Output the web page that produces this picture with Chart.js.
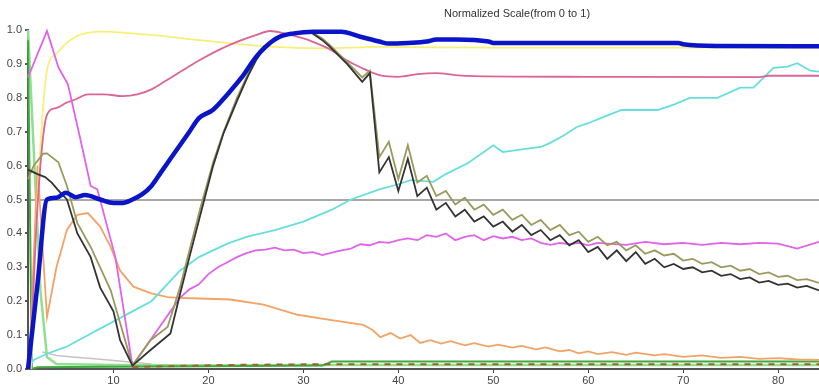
<!DOCTYPE html>
<html>
<head>
<meta charset="utf-8">
<script src="https://cdn.jsdelivr.net/npm/chart.js@4"></script>
<style>
  body { margin: 0; background: #fff; }
  #wrap { width: 819px; height: 392px; }
</style>
</head>
<body>
<div id="wrap"><canvas id="norm_canvas" width="819" height="392"></canvas></div>
<script>
// values, x = step, y = normalized value
const titleText = 'Normalized Scale(from 0 to 1)';
const yTicks = [0, 0.1, 0.2, 0.3, 0.4, 0.5, 0.6, 0.7, 0.8, 0.9, 1.0];
const xTicks = [10, 20, 30, 40, 50, 60, 70, 80];
const refLevel = 0.5;

const blueX = [1, 2, 3, 4, 5, 6, 7, 8.6, 10, 11, 12, 13, 14, 15, 16, 17, 18, 19, 20.5, 22, 23.5, 25, 26, 27.5, 29, 31, 34, 36, 38, 39, 41, 43, 44, 46, 49.5, 50, 60, 69.5, 70, 74, 84.3];
const blueY = [0, 0.25, 0.5, 0.505, 0.52, 0.507, 0.513, 0.5, 0.49, 0.49, 0.5, 0.515, 0.54, 0.58, 0.62, 0.66, 0.7, 0.74, 0.765, 0.81, 0.86, 0.92, 0.95, 0.98, 0.99, 0.995, 0.995, 0.98, 0.966, 0.96, 0.962, 0.966, 0.972, 0.972, 0.966, 0.962, 0.962, 0.962, 0.958, 0.953, 0.952];

const yellowX = [1.3, 2, 3, 4, 5, 6, 7, 8.5, 12, 16, 19, 22, 27, 32, 38, 50, 84.3];
const yellowY = [0, 0.5, 0.88, 0.93, 0.96, 0.98, 0.99, 0.995, 0.99, 0.98, 0.97, 0.962, 0.95, 0.946, 0.95, 0.948, 0.948];

const roseX = [1.2, 2, 3, 4, 5, 6, 7.3, 9, 11, 12.5, 14, 15.5, 17, 19, 21, 23, 25, 26.5, 28, 30, 31, 33, 34.6, 36, 38, 40, 42, 44, 46, 48, 60, 78, 79, 84.3];
const roseY = [0, 0.48, 0.75, 0.77, 0.785, 0.795, 0.81, 0.81, 0.805, 0.81, 0.825, 0.85, 0.876, 0.91, 0.94, 0.965, 0.985, 0.997, 0.99, 0.975, 0.965, 0.94, 0.91, 0.89, 0.867, 0.862, 0.87, 0.873, 0.867, 0.864, 0.862, 0.861, 0.865, 0.865];

const violetX = [1, 3, 4.2, 5.2, 6.5, 7.6, 8.3, 10.2, 12, 13, 14, 15, 16, 17, 18, 19, 20, 21, 22, 23, 24, 25, 26, 27, 28, 29, 30, 31, 32, 33, 34, 35, 36, 37, 38, 39, 40, 41, 42, 43, 44, 45, 46, 47, 48, 49, 50, 51, 52, 53, 54, 55, 56, 57, 58, 59, 60, 61, 62, 64, 66, 68, 70, 72, 74, 76, 78, 80, 82, 84.3];
const violetY = [0.86, 0.997, 0.89, 0.84, 0.68, 0.54, 0.53, 0.33, 0.01, 0.05, 0.09, 0.13, 0.17, 0.21, 0.235, 0.25, 0.28, 0.3, 0.315, 0.33, 0.342, 0.35, 0.352, 0.358, 0.35, 0.352, 0.342, 0.345, 0.336, 0.343, 0.35, 0.355, 0.368, 0.365, 0.375, 0.372, 0.38, 0.385, 0.38, 0.395, 0.39, 0.4, 0.38, 0.39, 0.395, 0.38, 0.392, 0.385, 0.39, 0.38, 0.385, 0.372, 0.366, 0.372, 0.368, 0.372, 0.365, 0.372, 0.37, 0.366, 0.375, 0.368, 0.372, 0.366, 0.372, 0.368, 0.372, 0.37, 0.355, 0.375];

const cyanX = [1, 1.6, 3, 5, 7, 9, 10, 12, 14, 17, 19, 22, 24, 27, 30, 33, 35, 38, 40, 41.3, 43.7, 45, 47.3, 49, 50, 51, 53, 55, 56, 57.5, 58.8, 60, 61.3, 63.5, 67.3, 69, 70.7, 73.6, 76, 77.4, 78.5, 79.5, 81, 82, 83.4, 84.3];
const cyanY = [0, 0.027, 0.045, 0.065, 0.095, 0.125, 0.14, 0.17, 0.2, 0.29, 0.33, 0.37, 0.39, 0.41, 0.435, 0.47, 0.5, 0.53, 0.545, 0.557, 0.552, 0.575, 0.607, 0.64, 0.66, 0.64, 0.648, 0.655, 0.667, 0.69, 0.714, 0.725, 0.74, 0.764, 0.764, 0.78, 0.8, 0.8, 0.83, 0.83, 0.86, 0.888, 0.892, 0.902, 0.88, 0.877];

const blackX = [1, 2, 2.8, 3.5, 4.1, 5.1, 6.2, 7.6, 8.6, 10, 10.7, 12, 13.9, 16, 17, 18, 19.2, 20.5, 21.6, 23, 24.1, 25, 25.8, 27, 28, 30.7, 32, 32.8, 34.6, 36.2, 37, 38, 39, 40, 41, 42, 43, 44, 45, 46, 47, 48, 49, 50, 51, 52, 53, 54, 55, 56, 57, 58, 59, 60, 61, 62, 63, 64, 65, 66, 67, 68, 69, 70, 71, 72, 73, 74, 75, 76, 77, 78, 79, 80, 81, 82, 83, 84.3];
const blackY = [0.588, 0.575, 0.566, 0.55, 0.53, 0.5, 0.4, 0.33, 0.24, 0.17, 0.085, 0.01, 0.056, 0.105, 0.22, 0.33, 0.46, 0.6, 0.696, 0.79, 0.86, 0.91, 0.945, 0.975, 0.985, 0.995, 0.97, 0.95, 0.9, 0.847, 0.873, 0.58, 0.625, 0.525, 0.62, 0.51, 0.535, 0.47, 0.49, 0.45, 0.47, 0.435, 0.45, 0.42, 0.435, 0.405, 0.425, 0.395, 0.41, 0.38, 0.395, 0.365, 0.38, 0.345, 0.36, 0.325, 0.35, 0.318, 0.345, 0.31, 0.325, 0.3, 0.31, 0.295, 0.3, 0.285, 0.29, 0.275, 0.28, 0.265, 0.27, 0.255, 0.26, 0.248, 0.252, 0.24, 0.245, 0.232];

const oliveX = [1, 1.6, 2.6, 3, 4.2, 5.1, 6.2, 7.6, 9.7, 10.7, 12, 13.9, 15.7, 17, 18, 19.2, 20.5, 21.6, 23, 24.1, 25, 25.8, 27, 28, 30.7, 32, 32.8, 34.6, 36.2, 37, 38, 39, 40, 41, 42, 43, 44, 45, 46, 47, 48, 49, 50, 51, 52, 53, 54, 55, 56, 57, 58, 59, 60, 61, 62, 63, 64, 65, 66, 67, 68, 69, 70, 71, 72, 73, 74, 75, 76, 77, 78, 79, 80, 81, 82, 83, 84.3];
const oliveY = [0.56, 0.6, 0.635, 0.636, 0.61, 0.54, 0.43, 0.36, 0.233, 0.136, 0.01, 0.085, 0.124, 0.24, 0.35, 0.48, 0.61, 0.7, 0.8, 0.865, 0.915, 0.95, 0.978, 0.988, 0.997, 0.975, 0.955, 0.905, 0.86, 0.88, 0.625, 0.67, 0.56, 0.66, 0.55, 0.57, 0.51, 0.525, 0.485, 0.505, 0.47, 0.485, 0.455, 0.47, 0.44, 0.455, 0.425, 0.44, 0.41, 0.425, 0.395, 0.405, 0.375, 0.39, 0.365, 0.375, 0.35, 0.365, 0.34, 0.35, 0.335, 0.34, 0.32, 0.325, 0.31, 0.315, 0.3, 0.305, 0.29, 0.295, 0.28, 0.285, 0.272, 0.275, 0.262, 0.265, 0.254];

const orangeX = [1.2, 2, 3, 4, 5.1, 6.2, 7.3, 8.6, 9.7, 10.7, 12.1, 13.9, 15.7, 17, 19, 22.3, 25.8, 29.4, 32.8, 36.3, 37.3, 38.1, 39.2, 40.2, 41.3, 42.3, 43.4, 44.5, 45.5, 47, 48, 49.5, 50.5, 52, 53, 54.5, 55.5, 57, 58, 59, 60, 61, 62.5, 64, 65, 67, 68, 70, 72, 74, 76, 78, 80, 82, 84.3];
const orangeY = [0.05, 0.6, 0.153, 0.3, 0.41, 0.455, 0.46, 0.42, 0.36, 0.29, 0.243, 0.224, 0.212, 0.21, 0.208, 0.205, 0.19, 0.16, 0.145, 0.13, 0.115, 0.094, 0.106, 0.09, 0.1, 0.077, 0.085, 0.075, 0.082, 0.07, 0.076, 0.066, 0.072, 0.063, 0.068, 0.058, 0.064, 0.052, 0.056, 0.046, 0.052, 0.044, 0.05, 0.042, 0.048, 0.04, 0.044, 0.036, 0.04, 0.033, 0.036, 0.03, 0.032, 0.028, 0.027];

const lightGreenX = [1, 1.8, 2.3, 3, 4, 10, 20, 30, 84.3];
const lightGreenY = [1, 0.53, 0.234, 0.035, 0.015, 0.012, 0.01, 0.012, 0.012];

const greenX = [1, 1.4, 2, 5, 20, 32, 33, 84.3];
const greenY = [0.97, 0, 0.005, 0.006, 0.008, 0.01, 0.022, 0.022];

const brownX = [12, 22, 32, 84.3];
const brownY = [0.006, 0.012, 0.014, 0.014];

const grayX = [2.5, 4, 6, 8, 10, 12, 14];
const grayY = [0.05, 0.04, 0.035, 0.03, 0.025, 0.02, 0.015];

function pts(xs, ys) {
  return xs.map(function (x, i) { return { x: x, y: ys[i] }; });
}

function line(xs, ys, color, width, opts) {
  opts = opts || {};
  return {
    data: pts(xs, ys),
    borderColor: color,
    borderWidth: width,
    borderDash: opts.dash || [],
    cubicInterpolationMode: opts.smooth ? 'monotone' : 'default',
    pointRadius: 0,
    tension: 0,
    fill: false,
    clip: false
  };
}

// title sits off-centre in the original, draw it by hand
const titlePlugin = {
  id: 'offTitle',
  afterDraw(chart) {
    const ctx = chart.ctx;
    ctx.save();
    ctx.font = '11px "Liberation Sans", Arial, sans-serif';
    ctx.fillStyle = '#333';
    ctx.textAlign = 'center';
    ctx.textBaseline = 'middle';
    ctx.fillText(titleText, 517, 14);
    ctx.restore();
  }
};

const tickFont = { family: '"Liberation Sans", Arial, sans-serif', size: 11 };

var ctx = document.getElementById('norm_canvas');
var normChart = new Chart(ctx, {
  type: 'line',
  data: {
    datasets: [
      line(blueX, blueY, '#0a14c8', 4.5, { smooth: true }),
      line(blackX, blackY, '#333333', 1.8),
      line(oliveX, oliveY, '#9a9a5e', 1.8),
      line(violetX, violetY, '#e064ea', 1.8),
      line(roseX, roseY, '#dc6496', 1.8, { smooth: true }),
      line(yellowX, yellowY, '#f6f078', 1.8, { smooth: true }),
      line(cyanX, cyanY, '#66dede', 1.8),
      line(orangeX, orangeY, '#f2a466', 1.8),
      line(brownX, brownY, '#a0602a', 2, { dash: [6, 6] }),
      line(greenX, greenY, '#3fa83f', 2),
      line(lightGreenX, lightGreenY, '#8ee08e', 2.5),
      line(grayX, grayY, '#c4c4c4', 1.5)
    ]
  },
  options: {
    responsive: false,
    animation: false,
    layout: { padding: { top: 30, right: 0, left: 0, bottom: 0 } },
    plugins: {
      legend: { display: false },
      title: { display: false },
      tooltip: { enabled: false }
    },
    scales: {
      x: {
        type: 'linear',
        min: 1,
        max: 84.3,
        afterFit(scale) { scale.height = 23; },
        afterBuildTicks(scale) { scale.ticks = xTicks.map(function (v) { return { value: v }; }); },
        grid: { color: 'transparent', drawTicks: true, tickLength: 4, tickColor: '#444' },
        border: { color: '#555', width: 2 },
        ticks: { font: tickFont, color: '#444', padding: 1, maxRotation: 0 }
      },
      y: {
        min: 0,
        max: 1,
        afterFit(scale) { scale.width = 28; },
        afterBuildTicks(scale) { scale.ticks = yTicks.map(function (v) { return { value: v }; }); },
        grid: {
          color: function (c) { return c.tick && c.tick.value === refLevel ? '#a8a8a8' : 'transparent'; },
          lineWidth: 2,
          drawTicks: true,
          tickLength: 3,
          tickColor: '#555'
        },
        border: { color: '#555', width: 2 },
        ticks: {
          font: tickFont,
          color: '#444',
          padding: 3,
          callback: function (v) { return Number(v).toFixed(1); }
        }
      }
    }
  },
  plugins: [titlePlugin]
});
</script>
</body>
</html>
